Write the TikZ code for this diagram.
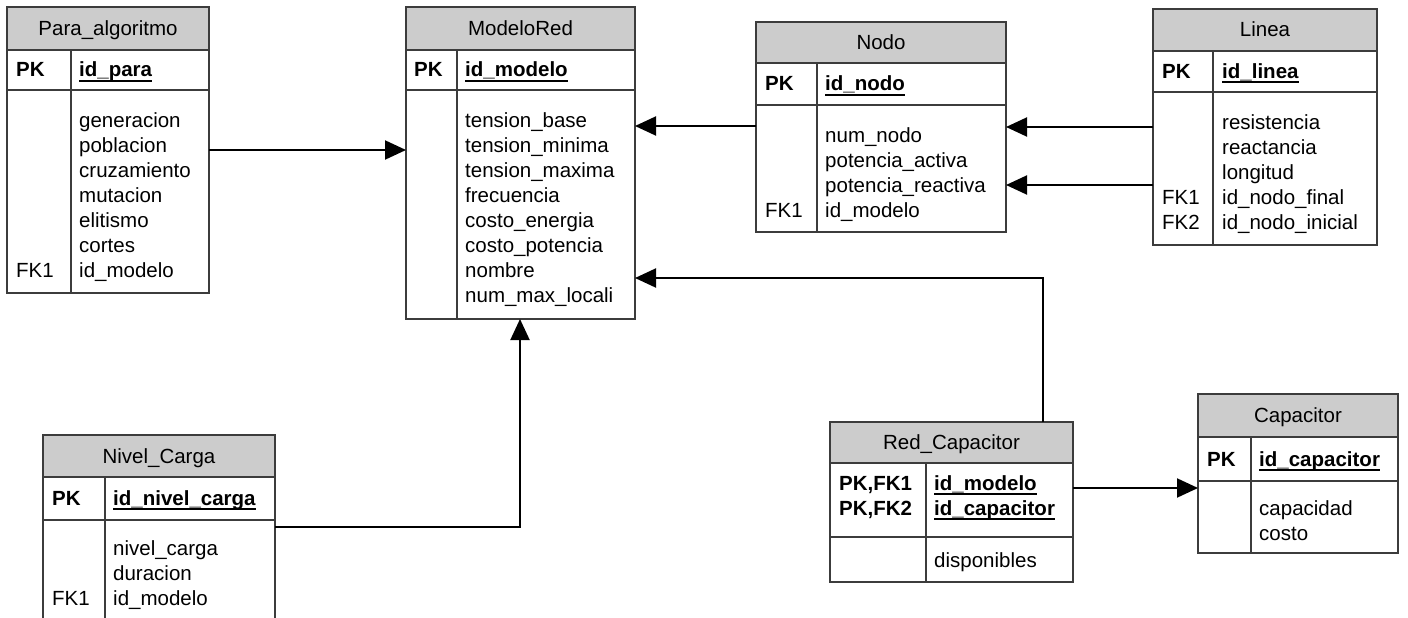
\documentclass[tikz,border=0pt]{standalone}
\usepackage{fontspec}
\setmainfont{Liberation Sans}
\usetikzlibrary{arrows.meta}
\definecolor{hdrgray}{RGB}{204,204,204}
\definecolor{edgegray}{RGB}{60,60,60}
\tikzset{
  tbl/.style={draw=edgegray,fill=white,line width=1.3pt,anchor=north west,inner sep=0pt,outer sep=0pt},
  hdr/.style={draw=edgegray,fill=hdrgray,line width=1.3pt},
  divline/.style={draw=edgegray,line width=1.3pt},
  ttl/.style={inner sep=0pt,text height=14pt,text depth=0pt},
  fld/.style={anchor=west,inner sep=0pt,text height=14pt,text depth=0pt},
  fk/.style={black,line width=2pt,-{Triangle[length=21pt,width=19pt]}}
}
% frame of one table: name, x, y, width, height, header height, key row height, key column width
\newcommand{\tabla}[8]{%
  \node[tbl,minimum width=#4pt,minimum height=#5pt] (#1) at (#2,#3) {};
  \draw[hdr] (#1.north west) rectangle ([yshift=-#6pt]#1.north east);
  \draw[divline] ([yshift=-#6pt-#7pt]#1.north west) -- ([yshift=-#6pt-#7pt]#1.north east);
  \draw[divline] ([xshift=#8pt,yshift=-#6pt]#1.north west) -- ([xshift=#8pt]#1.south west);
}
% bold, underlined primary key field
\newcommand{\clave}[1]{\setbox0=\hbox{\bfseries #1}\rlap{\rule[-4.5pt]{\wd0}{1.8pt}}\box0}

\begin{document}
\begin{tikzpicture}[x=1pt,y=-1pt,font=\fontsize{20.5}{25}\selectfont]
  \fill[white] (0,0) rectangle (1408,618);
  \clip (0,0) rectangle (1408,618);

  % Para_algoritmo
  \tabla{para}{7}{7}{202}{286}{43}{40}{64}
  \node[ttl] (para-t) at (108,28.5) {Para\_algoritmo};
  \node[fld] (para-pk) at (16,70) {\textbf{PK}};
  \node[fld] (para-id) at (79,70) {\clave{id\_para}};
  \foreach \f [count=\i from 0] in {generacion,poblacion,cruzamiento,mutacion,elitismo,cortes,id\_modelo}
    \node[fld] (para-a\i) at (79,120+25*\i) {\f};
  \node[fld] (para-fk) at (16,270) {FK1};

  % ModeloRed
  \tabla{modelo}{406}{7}{229}{312}{43}{40}{51}
  \node[ttl] (modelo-t) at (520.5,28.5) {ModeloRed};
  \node[fld] (modelo-pk) at (414,70) {\textbf{PK}};
  \node[fld] (modelo-id) at (465,70) {\clave{id\_modelo}};
  \foreach \f [count=\i from 0] in {tension\_base,tension\_minima,tension\_maxima,frecuencia,costo\_energia,costo\_potencia,nombre,num\_max\_locali}
    \node[fld] (modelo-a\i) at (465,120+25*\i) {\f};

  % Nodo
  \tabla{nodo}{756}{22}{250}{210}{41}{42}{61}
  \node[ttl] (nodo-t) at (881,42.5) {Nodo};
  \node[fld] (nodo-pk) at (765,84) {\textbf{PK}};
  \node[fld] (nodo-id) at (825,84) {\clave{id\_nodo}};
  \foreach \f [count=\i from 0] in {num\_nodo,potencia\_activa,potencia\_reactiva,id\_modelo}
    \node[fld] (nodo-a\i) at (825,135+25*\i) {\f};
  \node[fld] (nodo-fk) at (765,210) {FK1};

  % Linea
  \tabla{linea}{1153}{9}{224}{236}{42}{41}{60}
  \node[ttl] (linea-t) at (1265,30) {Linea};
  \node[fld] (linea-pk) at (1162,71.5) {\textbf{PK}};
  \node[fld] (linea-id) at (1222,71.5) {\clave{id\_linea}};
  \foreach \f [count=\i from 0] in {resistencia,reactancia,longitud,id\_nodo\_final,id\_nodo\_inicial}
    \node[fld] (linea-a\i) at (1222,122+25*\i) {\f};
  \node[fld] (linea-fk1) at (1162,197) {FK1};
  \node[fld] (linea-fk2) at (1162,222) {FK2};

  % Nivel_Carga (runs off the bottom edge)
  \tabla{nivel}{43}{435}{232}{220}{42}{43}{62}
  \node[ttl] (nivel-t) at (159,456) {Nivel\_Carga};
  \node[fld] (nivel-pk) at (52,498.5) {\textbf{PK}};
  \node[fld] (nivel-id) at (113,498.5) {\clave{id\_nivel\_carga}};
  \foreach \f [count=\i from 0] in {nivel\_carga,duracion,id\_modelo}
    \node[fld] (nivel-a\i) at (113,548+25*\i) {\f};
  \node[fld] (nivel-fk) at (52,598) {FK1};

  % Red_Capacitor
  \tabla{redcap}{830}{422}{243}{160}{41}{74}{96}
  \node[ttl] (redcap-t) at (951.5,442.5) {Red\_Capacitor};
  \node[fld] (redcap-pk1) at (839,483) {\textbf{PK,FK1}};
  \node[fld] (redcap-pk2) at (839,508) {\textbf{PK,FK2}};
  \node[fld] (redcap-id1) at (934,483) {\clave{id\_modelo}};
  \node[fld] (redcap-id2) at (934,508) {\clave{id\_capacitor}};
  \node[fld] (redcap-a0) at (934,560) {disponibles};

  % Capacitor
  \tabla{capac}{1198}{394}{200}{159}{43}{44}{53}
  \node[ttl] (capac-t) at (1298,415.5) {Capacitor};
  \node[fld] (capac-pk) at (1207,459) {\textbf{PK}};
  \node[fld] (capac-id) at (1259,459) {\clave{id\_capacitor}};
  \foreach \f [count=\i from 0] in {capacidad,costo}
    \node[fld] (capac-a\i) at (1259,508+25*\i) {\f};

  % relations
  \coordinate (c1) at (0,150);
  \coordinate (c2) at (0,126);
  \coordinate (c3) at (0,127);
  \coordinate (c4) at (0,185);
  \coordinate (c5) at (1043,278);
  \coordinate (c6) at (520,527);
  \coordinate (c7) at (0,488);
  \draw[fk] (para.east |- c1) -- (modelo.west |- c1);
  \draw[fk] (nodo.west |- c2) -- (modelo.east |- c2);
  \draw[fk] (linea.west |- c3) -- (nodo.east |- c3);
  \draw[fk] (linea.west |- c4) -- (nodo.east |- c4);
  \draw[fk] (redcap.north -| c5) -- (c5) -- (modelo.east |- c5);
  \draw[fk] (nivel.east |- c6) -- (c6) -- (modelo.south -| c6);
  \draw[fk] (redcap.east |- c7) -- (capac.west |- c7);
\end{tikzpicture}
\end{document}
